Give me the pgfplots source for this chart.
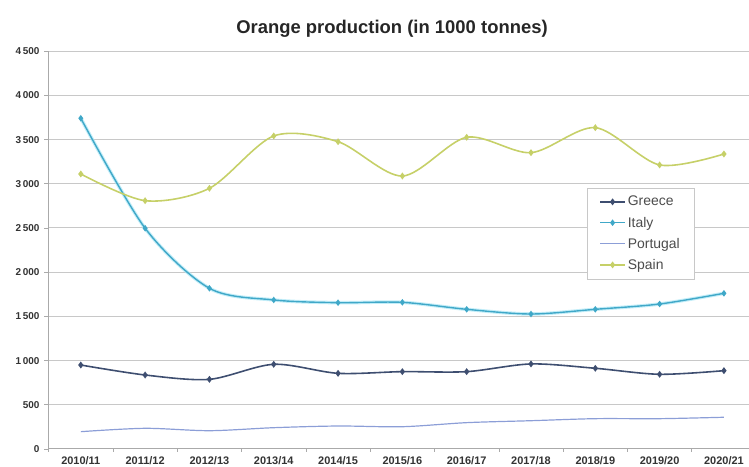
\documentclass[border=0pt]{standalone}
\usepackage{fontspec}
\setmainfont{Liberation Sans}
\usepackage{pgfplots}
\pgfplotsset{compat=1.18}

\definecolor{greececol}{RGB}{62,78,112}
\definecolor{italycol}{RGB}{64,168,200}
\definecolor{italyglow}{RGB}{170,230,245}
\definecolor{portugalcol}{RGB}{140,158,215}
\definecolor{spaincol}{RGB}{198,208,104}
\definecolor{gridcol}{RGB}{200,200,200}
\definecolor{axiscol}{RGB}{170,170,170}

\begin{document}
\begin{tikzpicture}[x=1bp,y=1bp]
\useasboundingbox (0,0) rectangle (749,467);
\node[font=\bfseries\fontsize{18.5}{20}\selectfont, text=black!85] at (392,438) {Orange production (in 1000 tonnes)};
\begin{axis}[
  at={(48bp,18bp)}, anchor=south west,
  scale only axis,
  width=701bp, height=397.8bp,
  xmin=-0.51, xmax=10.39,
  ymin=0, ymax=4500,
  axis lines*=left,
  axis line style={axiscol, line width=1pt},
  x axis line style={-}, y axis line style={-},
  ytick={0,500,...,4500},
  xtick={0,...,10},
  xticklabels={2010/11,2011/12,2012/13,2013/14,2014/15,2015/16,2016/17,2017/18,2018/19,2019/20,2020/21},
  minor xtick={-0.5,0.5,...,10.5},
  major x tick style={draw=none},
  minor x tick style={axiscol, line width=0.6pt},
  y tick style={axiscol, line width=0.6pt},
  tick align=outside,
  major tick length=4bp, minor tick length=3bp,
  ymajorgrids,
  grid style={gridcol, line width=1pt},
  /pgf/number format/assume math mode=true,
  /pgf/number format/1000 sep={\,},
  yticklabel style={font=\bfseries\fontsize{10}{11}\selectfont, text=black!80, xshift=-1bp},
  xticklabel style={font=\bfseries\fontsize{11}{12}\selectfont, text=black!80, yshift=0bp},
  clip=false,
  legend style={
    at={(0.769,0.656)}, anchor=north west,
    draw=gridcol, fill=white,
    font=\fontsize{14}{16}\selectfont, text=black!70,
    row sep=5.5bp, inner xsep=12bp, inner ysep=6bp,
    legend cell align=left,
  },
  legend image code/.code={
    \draw[mark repeat=2, mark phase=2] plot coordinates {(0bp,0bp) (12.5bp,0bp) (25bp,0bp)};
  },
  every axis plot/.append style={smooth, tension=0.5},
]
% soft glow under the Italy series
\addplot[italyglow, line width=3.5pt, opacity=0.7, forget plot] coordinates {
 (0,3741) (1,2497) (2,1818) (3,1686) (4,1655) (5,1659) (6,1580) (7,1527) (8,1580) (9,1640) (10,1761)};

\addplot[greececol, line width=1.6pt, mark=diamond*, mark size=2.2pt] coordinates {
 (0,950) (1,837) (2,788) (3,958) (4,856) (5,875) (6,875) (7,962) (8,913) (9,845) (10,886)};
\addlegendentry{Greece}

\addplot[italycol, line width=1.4pt, mark=diamond*, mark size=2.2pt] coordinates {
 (0,3741) (1,2497) (2,1818) (3,1686) (4,1655) (5,1659) (6,1580) (7,1527) (8,1580) (9,1640) (10,1761)};
\addlegendentry{Italy}

\addplot[portugalcol, line width=1.2pt] coordinates {
 (0,196) (1,234) (2,207) (3,241) (4,260) (5,252) (6,298) (7,320) (8,343) (9,343) (10,359)};
\addlegendentry{Portugal}

\addplot[spaincol, line width=1.6pt, mark=diamond*, mark size=2.2pt] coordinates {
 (0,3111) (1,2809) (2,2949) (3,3541) (4,3476) (5,3088) (6,3526) (7,3352) (8,3635) (9,3213) (10,3337)};
\addlegendentry{Spain}
\end{axis}
\end{tikzpicture}
\end{document}
